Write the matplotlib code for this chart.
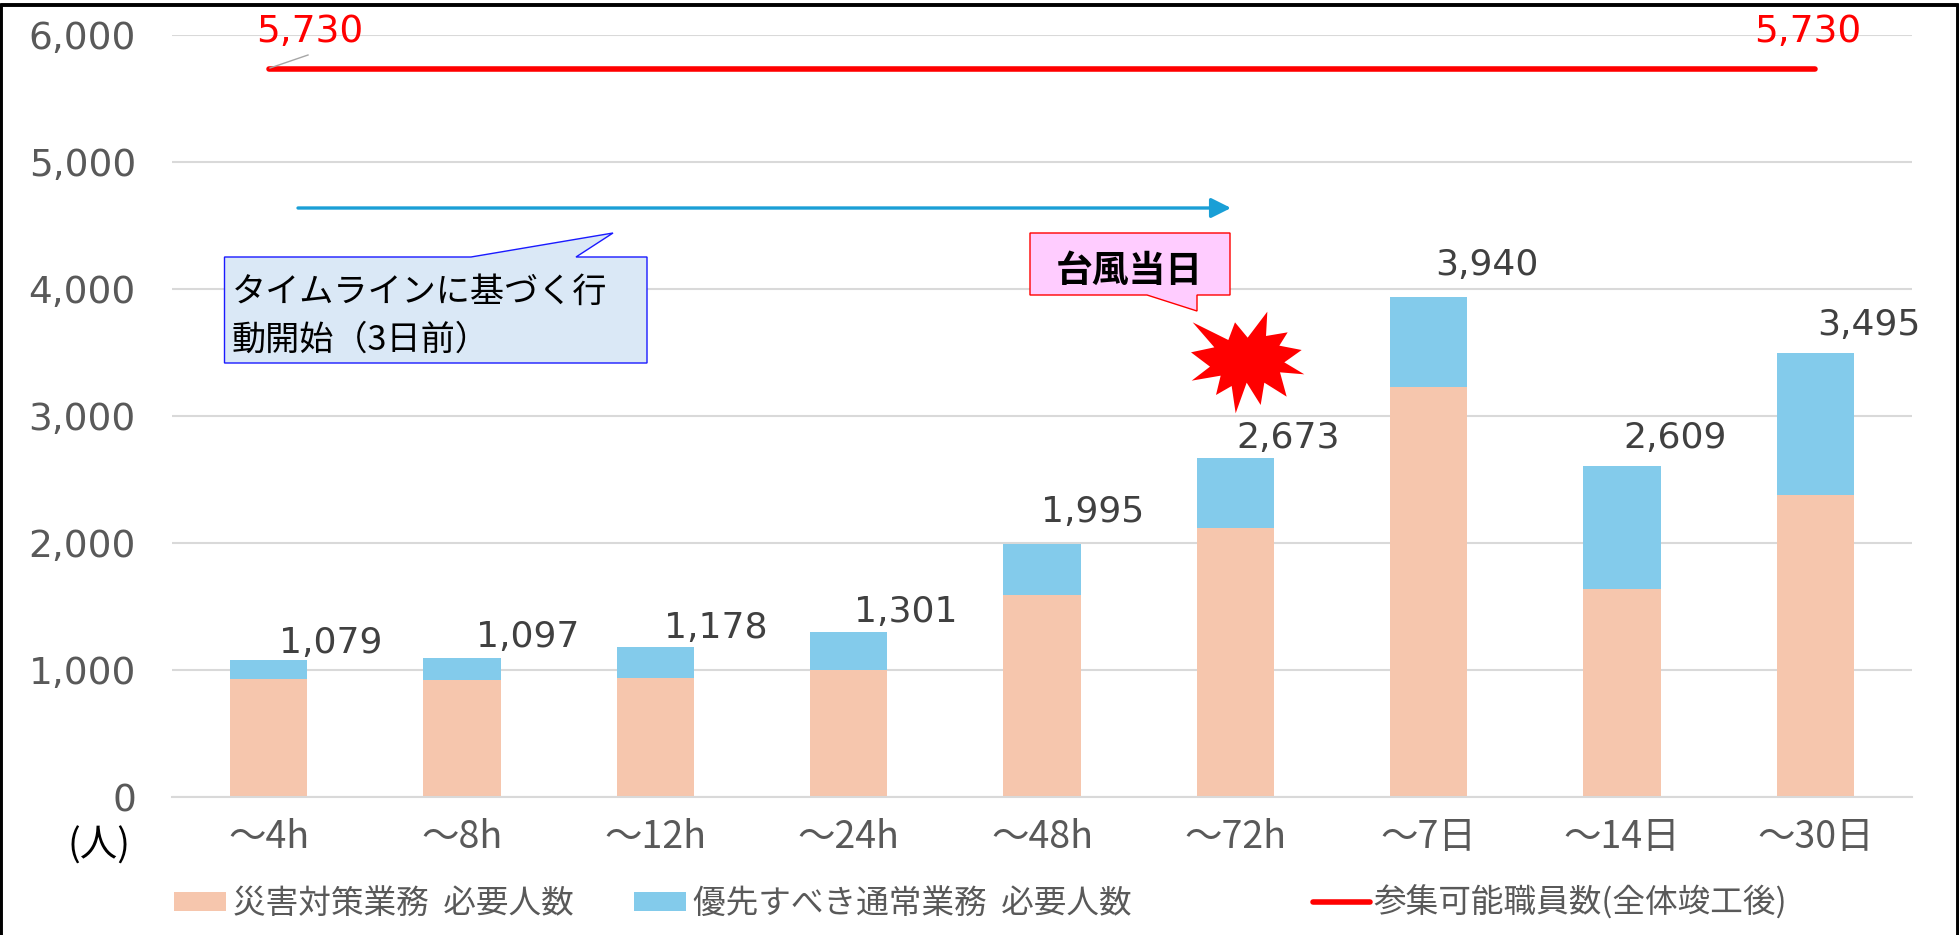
import matplotlib
matplotlib.use('Agg')
import matplotlib.pyplot as plt
from matplotlib.patches import Polygon
from matplotlib.lines import Line2D
from matplotlib.transforms import Affine2D

plt.rcParams['font.family'] = ['Noto Sans CJK JP', 'DejaVu Sans']

# データ
categories = ['～4h', '～8h', '～12h', '～24h', '～48h', '～72h', '～7日', '～14日', '～30日']
disaster = [930, 920, 940, 1000, 1590, 2120, 3230, 1640, 2380]
priority = [149, 177, 238, 301, 405, 553, 710, 969, 1115]
staff = [5730] * 9
yticks = [0, 1000, 2000, 3000, 4000, 5000, 6000]
totals = [a + b for a, b in zip(disaster, priority)]

W, H = 1959, 935
fig = plt.figure(figsize=(W / 100, H / 100), dpi=100)
ax = fig.add_axes([172 / W, (H - 797) / H, 1740 / W, 762 / H])

# 画面座標(左上原点)
px = Affine2D().scale(1, -1).translate(0, H)

x = list(range(len(categories)))
b1 = ax.bar(x, disaster, width=0.4, color='#F6C6AD', zorder=2, label='災害対策業務  必要人数')
b2 = ax.bar(x, priority, width=0.4, bottom=disaster, color='#83CBEB', zorder=2, label='優先すべき通常業務  必要人数')
line, = ax.plot(x, staff, color='#FF0000', lw=4, solid_capstyle='round', zorder=3, label='参集可能職員数(全体竣工後)')

ax.set_xlim(-0.5, 8.5)
ax.set_ylim(0, 6000)
ax.set_yticks(yticks)
ax.set_yticklabels([f'{v:,}' for v in yticks], family='DejaVu Sans', fontsize=27, color='#595959')
ax.set_xticks(x)
ax.set_xticklabels(categories, fontsize=27, color='#595959')
ax.tick_params(axis='y', length=0, pad=26)
ax.tick_params(axis='x', length=0, pad=15)
ax.grid(axis='y', color='#D9D9D9', lw=1.5, zorder=0)
ax.set_axisbelow(True)
for s in ['top', 'left', 'right']:
    ax.spines[s].set_visible(False)
ax.spines['bottom'].set_color('#D9D9D9')
ax.spines['bottom'].set_linewidth(1.5)

# データラベル
offsets = [(62, 17), (66, 21), (60, 19), (57, 20), (51, 32), (53, 20), (58, 32), (53, 28), (54, 28)]
for i, t in enumerate(totals):
    ax.annotate(f'{t:,}', (i, t), xytext=offsets[i], textcoords='offset pixels',
                ha='center', va='center', family='DejaVu Sans', fontsize=26, color='#404040', zorder=5)

ax.annotate(f'{staff[0]:,}', (0, staff[0]), xytext=(41, 37), textcoords='offset pixels',
            ha='center', va='center', family='DejaVu Sans', fontsize=27, color='#FF0000', zorder=5)
ax.annotate(f'{staff[-1]:,}', (8, staff[-1]), xytext=(-8, 37), textcoords='offset pixels',
            ha='center', va='center', family='DejaVu Sans', fontsize=27, color='#FF0000', zorder=5)
fig.add_artist(Line2D([270, 308], [68, 55], transform=px, color='#A6A6A6', lw=1))

# 凡例
leg1 = ax.legend(handles=[b1, b2], ncol=2, loc='lower left', frameon=False, fontsize=23.5,
                 labelcolor='#595959', borderpad=0, borderaxespad=0,
                 handlelength=1.6, handleheight=0.5, handletextpad=0.2, columnspacing=1.85,
                 bbox_to_anchor=(174, 920), bbox_transform=px)
ax.add_artist(leg1)
ax.legend(handles=[line], loc='lower left', frameon=False, fontsize=23.5,
          labelcolor='#595959', borderpad=0, borderaxespad=0,
          handlelength=1.75, handletextpad=0.1,
          bbox_to_anchor=(1313, 920), bbox_transform=px)

# (人)
fig.text(99, 846, '(人)', transform=px, ha='center', va='center', fontsize=27, color='black')

# 矢印
ax.annotate('', xy=(1231, 208), xytext=(298, 208), xycoords=px, textcoords=px,
            arrowprops=dict(arrowstyle='-|>,head_length=0.6,head_width=0.3', color='#1A9FD6',
                            lw=2.4, shrinkA=0, shrinkB=0, mutation_scale=20), zorder=4)

# 吹き出し
blue_box = [(224.5, 257), (471, 257), (613, 233), (576, 257), (647, 257), (647, 363), (224.5, 363)]
fig.add_artist(Polygon(blue_box, closed=True, transform=px, facecolor='#DAE8F6', edgecolor='#1A1AFF', lw=1, zorder=6))
fig.text(232, 292, 'タイムラインに基づく行', transform=px, va='center', fontsize=24.6, color='black', zorder=7)
fig.text(232, 340, '動開始（3日前）', transform=px, va='center', fontsize=24.6, color='black', zorder=7)

pink_box = [(1030, 233), (1230, 233), (1230, 295), (1197, 295), (1197, 311), (1147, 295), (1030, 295)]
fig.add_artist(Polygon(pink_box, closed=True, transform=px, facecolor='#FFCCFF', edgecolor='#FF0000', lw=1, zorder=6))
fig.text(1129, 271, '台風当日', transform=px, ha='center', va='center', fontsize=26.5, fontweight='bold', color='black', zorder=7)

# 爆発
burst = [(728, 367), (835, 420), (855, 367), (893, 413), (952, 335), (948, 408), (1013, 397), (988, 437),
         (1055, 450), (1003, 487), (1063, 523), (990, 517), (1010, 590), (943, 548), (932, 615), (890, 548),
         (857, 640), (845, 558), (798, 585), (812, 527), (725, 542), (780, 500), (723, 457), (793, 442)]
burst = [(950 + a / 3, 200 + b / 3) for a, b in burst]
fig.add_artist(Polygon(burst, closed=True, transform=px, facecolor='#FF0000', edgecolor='none', zorder=6))

# 枠線
fig.add_artist(Line2D([1, 1, W - 1, W - 1], [H, 5, 5, H], transform=px, color='black', lw=2.8))

fig.savefig('out.png', dpi=100)
